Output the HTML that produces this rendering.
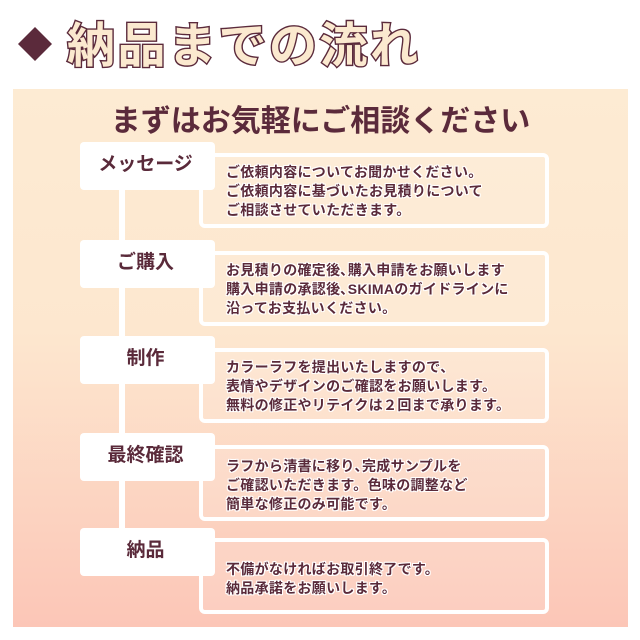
<!DOCTYPE html>
<html><head><meta charset="utf-8"><style>
body{margin:0;width:640px;height:640px;background:#fff;position:relative;overflow:hidden;font-family:"Liberation Sans","Noto Sans CJK JP",sans-serif;}
.a{position:absolute;}
#panel{left:13px;top:89px;width:615px;height:538px;background:linear-gradient(#fdebd3 0%,#fde7cf 45%,#fcc6b7 100%);}
.lbl{position:absolute;left:80px;width:135px;height:48px;background:#fff;border-radius:4px;color:#5a2a3a;font-weight:bold;font-size:19px;text-align:center;line-height:46px;box-sizing:border-box;padding-right:4px;}
.box{position:absolute;left:199px;width:350px;border:4px solid #fff;border-radius:6px;box-sizing:border-box;background:rgba(255,255,255,0.12);}
.txt{position:absolute;left:226px;color:#5a2a3a;font-weight:bold;font-size:14px;line-height:19px;white-space:nowrap;letter-spacing:0.3px;text-shadow:1px 0 #fff,-1px 0 #fff,0 1px #fff,0 -1px #fff,1px 1px #fff,-1px -1px #fff,1px -1px #fff,-1px 1px #fff;}
</style></head><body>
<div class="a" style="left:18px;top:27px;width:34px;height:34px;"><svg width="34" height="34"><polygon points="17,0 34,17 17,34 0,17" fill="#5b2a3b"/></svg></div>
<svg class="a" style="left:60px;top:8px" width="400" height="72"><text x="7" y="54" font-size="48" font-weight="bold" font-family="Liberation Sans, Noto Sans CJK JP, sans-serif" fill="#fbe9cf" stroke="#5b2a3b" stroke-width="2.8" paint-order="stroke" letter-spacing="2.5">納品までの流れ</text></svg>
<div id="panel" class="a"></div>
<div class="a" style="left:13px;top:96px;width:615px;text-align:center;font-size:30px;font-weight:bold;color:#5b2a3b;">まずはお気軽にご相談ください</div>
<div class="a" style="left:119px;top:185px;width:6px;height:365px;background:#fff;"></div>
<div class="box" style="top:153px;height:75px;"></div>
<div class="box" style="top:251px;height:75px;"></div>
<div class="box" style="top:348px;height:75px;"></div>
<div class="box" style="top:445px;height:76px;"></div>
<div class="box" style="top:538px;height:76px;"></div>
<div class="lbl" style="top:142px;">メッセージ</div>
<div class="lbl" style="top:240px;">ご購入</div>
<div class="lbl" style="top:336px;">制作</div>
<div class="lbl" style="top:433px;">最終確認</div>
<div class="lbl" style="top:528px;">納品</div>
<div class="txt" style="top:163px;">ご依頼内容についてお聞かせください。<br>ご依頼内容に基づいたお見積りについて<br>ご相談させていただきます。</div>
<div class="txt" style="top:261px;">お見積りの確定後､購入申請をお願いします<br>購入申請の承認後､SKIMAのガイドラインに<br>沿ってお支払いください。</div>
<div class="txt" style="top:358px;">カラーラフを提出いたしますので､<br>表情やデザインのご確認をお願いします。<br>無料の修正やリテイクは２回まで承ります。</div>
<div class="txt" style="top:457px;">ラフから清書に移り､完成サンプルを<br>ご確認いただきます。色味の調整など<br>簡単な修正のみ可能です。</div>
<div class="txt" style="top:560px;">不備がなければお取引終了です。<br>納品承諾をお願いします。</div>
</body></html>
